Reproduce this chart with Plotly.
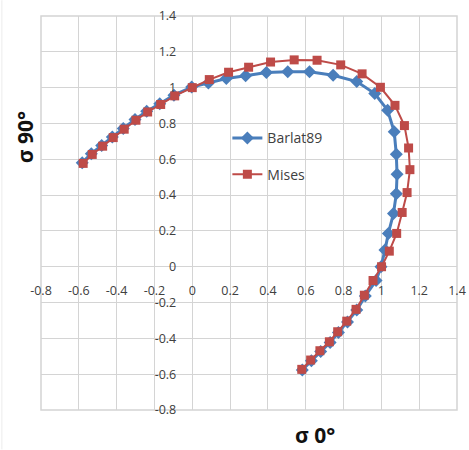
import plotly.graph_objects as go

# Barlat89 yield locus (sigma 0deg, sigma 90deg)
barlat_x = [-0.582, -0.534, -0.479, -0.423, -0.365, -0.303, -0.241, -0.172, -0.097, -0.003,
            0.085, 0.180, 0.282, 0.392, 0.505, 0.620, 0.745, 0.870, 0.965, 1.033, 1.068,
            1.079, 1.083, 1.079, 1.064, 1.037, 1.019, 0.998, 0.972, 0.915, 0.870, 0.821,
            0.773, 0.729, 0.679, 0.630, 0.582]
barlat_y = [0.581, 0.631, 0.677, 0.725, 0.772, 0.822, 0.868, 0.910, 0.958, 1.003,
            1.026, 1.051, 1.066, 1.085, 1.089, 1.089, 1.069, 1.034, 0.967, 0.874, 0.753,
            0.628, 0.516, 0.407, 0.297, 0.186, 0.093, 0.000, -0.077, -0.163, -0.242, -0.308,
            -0.367, -0.423, -0.473, -0.525, -0.577]

# von Mises yield locus
mises_x = [-0.577, -0.529, -0.474, -0.418, -0.360, -0.298, -0.236, -0.167, -0.093, 0.000,
           0.090, 0.192, 0.298, 0.414, 0.539, 0.660, 0.785, 0.898, 0.995, 1.072, 1.122,
           1.144, 1.151, 1.136, 1.110, 1.081, 1.042, 1.001, 0.956, 0.910, 0.866, 0.817,
           0.769, 0.725, 0.675, 0.626, 0.579]
mises_y = [0.577, 0.627, 0.673, 0.721, 0.768, 0.818, 0.864, 0.906, 0.954, 1.000,
           1.045, 1.086, 1.114, 1.143, 1.155, 1.153, 1.127, 1.077, 1.002, 0.901, 0.788,
           0.663, 0.542, 0.414, 0.303, 0.186, 0.087, 0.000, -0.077, -0.159, -0.238, -0.304,
           -0.363, -0.419, -0.469, -0.521, -0.573]

tick_vals = [-0.8, -0.6, -0.4, -0.2, 0, 0.2, 0.4, 0.6, 0.8, 1, 1.2, 1.4]
tick_text = ["-0.8", "-0.6", "-0.4", "-0.2", "0", "0.2", "0.4", "0.6", "0.8", "1", "1.2", "1.4"]

series_names = ["Barlat89", "Mises"]
x_title = "σ 0°"
y_title = "σ 90°"

fig = go.Figure()
fig.add_trace(go.Scatter(
    x=barlat_x, y=barlat_y, name=series_names[0], mode="lines+markers",
    line=dict(color="#4A7EBB", width=3),
    marker=dict(symbol="diamond", size=10, color="#4A7EBB"),
    legendgroup="a",
))
fig.add_trace(go.Scatter(
    x=mises_x, y=mises_y, name=series_names[1], mode="lines+markers",
    line=dict(color="#BE4B48", width=2),
    marker=dict(symbol="square", size=9, color="#BE4B48"),
    legendgroup="b",
))

grid = "#D4D4D4"
font = dict(family="Open Sans", size=12.5, color="#404040")
origin_frac = 0.8 / 2.2

fig.update_layout(
    width=469, height=450,
    margin=dict(l=41, r=12, t=16, b=40, autoexpand=False),
    paper_bgcolor="white", plot_bgcolor="white",
    font=font,
    showlegend=True,
    legend=dict(x=0.448, y=0.73, xanchor="left", yanchor="top",
                font=dict(family="Open Sans", size=14, color="#404040"),
                bgcolor="rgba(0,0,0,0)", tracegroupgap=15, itemwidth=30),
    xaxis=dict(range=[-0.8, 1.4], tickvals=tick_vals, ticktext=tick_text,
               showgrid=True, gridcolor=grid, gridwidth=1,
               zeroline=True, zerolinecolor=grid, zerolinewidth=1,
               showline=False, ticks="", anchor="free", position=origin_frac,
               automargin=False, ticklabelstandoff=15, tickfont=font),
    yaxis=dict(range=[-0.8, 1.4], tickvals=tick_vals, ticktext=tick_text,
               showgrid=True, gridcolor=grid, gridwidth=1,
               zeroline=True, zerolinecolor=grid, zerolinewidth=1,
               showline=False, ticks="", anchor="free", position=origin_frac,
               automargin=False, ticklabelstandoff=16, tickfont=font),
    shapes=[
        dict(type="rect", xref="paper", yref="paper", x0=0, y0=0, x1=1, y1=1,
             line=dict(color=grid, width=1.5), layer="below"),
        dict(type="line", xref="paper", yref="paper", x0=-0.094, x1=-0.094, y0=-0.1, y1=1.04,
             line=dict(color="#ECECEC", width=1)),
    ],
    annotations=[
        dict(text="<b>" + x_title + "</b>", xref="paper", yref="paper",
             x=(315 - 41) / 416, y=-(435 - 410) / 394.3, showarrow=False,
             font=dict(family="Open Sans", size=21, color="#111111"),
             xanchor="center", yanchor="middle"),
        dict(text="<b>" + y_title + "</b>", xref="paper", yref="paper",
             x=(25 - 41) / 416, y=1 - (137 - 15.7) / 394.3, showarrow=False, textangle=-90,
             font=dict(family="Open Sans", size=21, color="#111111"),
             xanchor="center", yanchor="middle"),
    ],
)

fig.write_html("out.html")
